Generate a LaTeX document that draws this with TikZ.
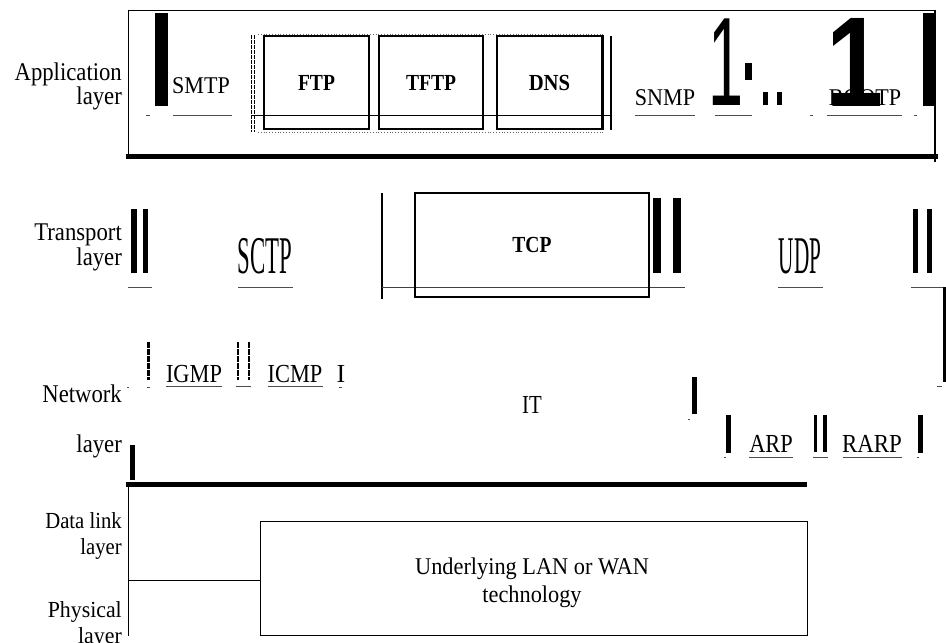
\documentclass[tikz,border=0pt]{standalone}
\usepackage{fontspec}
\setmainfont{Liberation Serif}
\newfontfamily\numfont{Liberation Sans}
\newcommand\sqz[2]{\scalebox{#1}[1]{#2}}
\begin{document}
\begin{tikzpicture}[x=1pt,y=-1pt,
  lab/.style={font=\fontsize{25.5}{28}\selectfont, inner sep=0pt, anchor=base east},
  lab2/.style={font=\fontsize{23}{26}\selectfont, inner sep=0pt, anchor=base east},
  prot/.style={font=\fontsize{24}{28}\selectfont, inner sep=0pt, anchor=base},
  nprot/.style={font=\fontsize{26}{28}\selectfont, inner sep=0pt, anchor=base},
  cond/.style={font=\fontsize{53}{60}\selectfont, inner sep=0pt, anchor=base},
  pbox/.style={draw, line width=1.5pt, inner sep=0pt, font=\fontsize{23}{26}\selectfont\bfseries},
  blk/.style={fill=black, draw=none},
  ul/.style={line width=0.9pt, draw=black!70},
  thinl/.style={line width=0.8pt},
  rough/.style={line width=1pt, dash pattern=on 4pt off 1pt}
]
\useasboundingbox (0,0) rectangle (946,643);

% ---------------- Application layer ----------------
\node[lab] (appl1) at (122,80) {\sqz{0.89}{Application}};
\node[lab] (appl2) at (122,104) {\sqz{0.89}{layer}};
\draw[thinl] (128,10) -- (936,10);
\draw[thinl] (128,10) -- (128,156);
\draw[line width=5pt] (126,156) -- (938,156);
\draw[line width=2.5pt] (935,10) -- (935,162);
\fill[blk] (923,13) rectangle (935,106);
\fill[blk] (155,13) rectangle (168,106);
\node[prot] (smtp) at (201,93) {\sqz{0.92}{SMTP}};
\draw[ul] (173,115) -- (232,115);
\draw[ul] (146,115) -- (150,115);
\draw[rough] (251.5,35) -- (251.5,132);
\draw[rough] (254.5,35) -- (254.5,132);
\draw[thinl] (252,115) -- (612,115);
\draw[dotted, line width=0.8pt, draw=black!60] (258,34) -- (605,34);
\draw[dotted, line width=0.8pt, draw=black!60] (258,132) -- (605,132);
\node[pbox, minimum width=105pt, minimum height=93pt] (ftp) at (316.5,82.5) {\sqz{0.85}{FTP}};
\node[pbox, minimum width=104pt, minimum height=93pt] (tftp) at (431,82.5) {\sqz{0.85}{TFTP}};
\node[pbox, minimum width=105pt, minimum height=93pt] (dns) at (549.5,82.5) {\sqz{0.9}{DNS}};
\draw[line width=2.5pt] (dns.north east) -- (dns.south east);
\draw[line width=1.3pt] (611,36) -- (611,130);
\node[prot] (snmp) at (665,105) {\sqz{0.92}{SNMP}};
\draw[ul] (635,115) -- (695,115);
\node[inner sep=0pt, anchor=base, font=\fontsize{126}{130}\numfont] (one1) at (726,105) {\sqz{0.5}{1}};
\fill[blk] (745,63) rectangle (752,80);
\fill[blk] (763,92) rectangle (768,105);
\fill[blk] (777,92) rectangle (782,105);
\draw[ul] (715,115) -- (752,115);
\draw[ul] (810,115) -- (813,115);
\node[inner sep=0pt, anchor=base, font=\fontsize{128}{130}\numfont\bfseries] (one2) at (855,106) {\sqz{0.8}{1}};
\node[prot] (bootp) at (865,105) {\sqz{0.92}{BOOTP}};
\draw[ul] (827,115) -- (902,115);
\draw[ul] (914,115) -- (917,115);

% ---------------- Transport layer ----------------
\node[lab] (tra1) at (122,240) {\sqz{0.89}{Transport}};
\node[lab] (tra2) at (122,265) {\sqz{0.89}{layer}};
\fill[blk] (131,209) rectangle (137,273);
\fill[blk] (143,209) rectangle (148,273);
\draw[ul] (128,287) -- (152,287);
\node[cond] (sctp) at (265,273) {\sqz{0.43}{SCTP}};
\draw[ul] (238,287) -- (293,287);
\draw[line width=1.5pt] (382,193) -- (382,299);
\draw[thinl, draw=black!75] (382,287) -- (685,287);
\node[pbox, line width=1.8pt, minimum width=234pt, minimum height=104pt] (tcp) at (532,245) {\sqz{0.85}{TCP}};
\fill[blk] (653,198) rectangle (661,273);
\fill[blk] (673,198) rectangle (681,273);
\node[cond] (udp) at (800,273) {\sqz{0.40}{UDP}};
\draw[ul] (778,287) -- (823,287);
\fill[blk] (913,209) rectangle (918,273);
\fill[blk] (927,209) rectangle (932,273);
\draw[ul] (911,287) -- (943,287);
\draw[line width=3pt] (944,287) -- (944,382);
\draw[ul] (937,386) -- (942,386);

% ---------------- Network layer ----------------
\node[lab] (net1) at (122,402) {\sqz{0.89}{Network}};
\node[lab] (net2) at (122,452) {\sqz{0.89}{layer}};
\draw[ul] (127,387) -- (129,387);
\draw[line width=2.5pt, dash pattern=on 6pt off 1pt] (148.5,342) -- (148.5,380);
\draw[ul] (147,387) -- (150,387);
\node[nprot] (igmp) at (194,382) {\sqz{0.86}{IGMP}};
\draw[ul] (166,386) -- (222,386);
\draw[line width=2pt, dash pattern=on 6pt off 1pt] (238,342) -- (238,380);
\draw[line width=2pt, dash pattern=on 6pt off 1pt] (249,342) -- (249,380);
\draw[ul] (236,386) -- (251,386);
\node[nprot] (icmp) at (295,382) {\sqz{0.86}{ICMP}};
\draw[ul] (268,386) -- (323,386);
\node[nprot] (ione) at (341,382) {I};
\draw[ul] (339,387) -- (342,387);
\node[nprot] (ip) at (532,413) {\sqz{0.8}{IT}};
\fill[blk] (692,377) rectangle (697,414);
\draw[ul] (688,419) -- (690,419);
\fill[blk] (726,415) rectangle (731,453);
\draw[ul] (724,457) -- (726,457);
\node[nprot] (arp) at (771,452) {\sqz{0.86}{ARP}};
\draw[ul] (749,457) -- (793,457);
\fill[blk] (814,415) rectangle (817,452);
\fill[blk] (823,415) rectangle (827,452);
\draw[ul] (813,457) -- (828,457);
\node[nprot] (rarp) at (872,452) {\sqz{0.88}{RARP}};
\draw[ul] (843,457) -- (902,457);
\fill[blk] (918,415) rectangle (923,453);
\draw[ul] (917,457) -- (919,457);
\fill[blk] (130,445) rectangle (135,480);
\draw[line width=5pt] (126,484) -- (807,484);

% ---------------- Data link / Physical ----------------
\node[lab2] (dl1) at (122,528) {\sqz{0.9}{Data link}};
\node[lab2] (dl2) at (122,554) {\sqz{0.9}{layer}};
\node[lab2] (ph1) at (122,617) {\sqz{0.95}{Physical}};
\node[lab2] (ph2) at (122,643) {\sqz{0.95}{layer}};
\draw[thinl] (128,484) -- (128,636);
\node[draw, line width=1pt, minimum width=547pt, minimum height=114pt, inner sep=0pt] (lan) at (533.5,578) {};
\draw[thinl] (128,580) -- (lan.west |- {(0,580)});
\node[font=\fontsize{24}{28}\selectfont, align=center, inner sep=0pt] (lantxt) at (532,583) {\sqz{0.93}{Underlying LAN or WAN}\\\sqz{0.93}{technology}};
\end{tikzpicture}
\end{document}
